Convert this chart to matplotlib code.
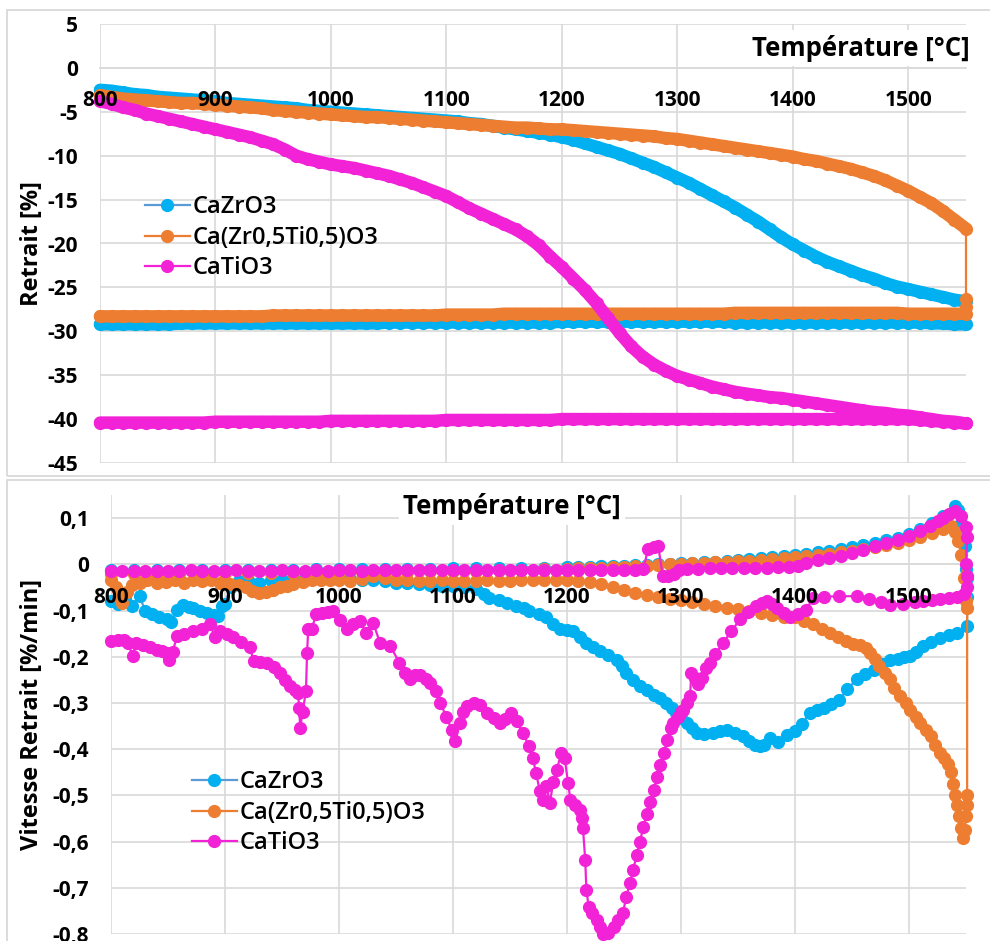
import numpy as np
import matplotlib
matplotlib.use('Agg')
import matplotlib.pyplot as plt
from matplotlib.patches import Rectangle

plt.rcParams['font.family'] = ['Open Sans', 'DejaVu Sans']

noms = ['CaZrO3', 'Ca(Zr0,5Ti0,5)O3', 'CaTiO3']
couleurs_ligne = ['#5B9BD5', '#ED7D31', '#F222D6']
couleurs_point = ['#00B0F0', '#ED7D31', '#F222D6']

# ---- retrait (%) : chauffe 800 -> 1550 puis retour, pas de 10 degres
temp = np.arange(800, 1551, 10)

retrait_cazro3 = [-2.5, -2.6, -2.8, -3.0, -3.1, -3.3, -3.4, -3.5, -3.6, -3.7,
                  -3.8, -4.0, -4.1, -4.2, -4.3, -4.4, -4.5, -4.6, -4.8, -4.9,
                  -5.0, -5.1, -5.2, -5.3, -5.4, -5.5, -5.6, -5.7, -5.8, -5.9,
                  -6.0, -6.1, -6.3, -6.4, -6.6, -6.8, -7.0, -7.2, -7.4, -7.6,
                  -7.9, -8.2, -8.6, -9.0, -9.4, -9.8, -10.3, -10.8, -11.3, -11.9,
                  -12.5, -13.1, -13.8, -14.5, -15.2, -15.9, -16.7, -17.5, -18.4, -19.3,
                  -20.1, -20.8, -21.5, -22.1, -22.6, -23.1, -23.6, -24.0, -24.5, -24.9,
                  -25.2, -25.5, -25.8, -26.1, -26.4, -26.6]
retrait_czt = [-3.1, -3.3, -3.5, -3.6, -3.7, -3.8, -3.9, -4.0, -4.0, -4.1,
               -4.2, -4.3, -4.4, -4.5, -4.6, -4.8, -4.9, -5.0, -5.1, -5.2,
               -5.3, -5.4, -5.5, -5.6, -5.6, -5.7, -5.8, -5.9, -6.0, -6.1,
               -6.2, -6.3, -6.4, -6.5, -6.6, -6.7, -6.8, -6.8, -6.9, -7.0,
               -7.0, -7.1, -7.2, -7.3, -7.4, -7.5, -7.6, -7.7, -7.8, -8.0,
               -8.1, -8.3, -8.5, -8.7, -8.9, -9.1, -9.3, -9.5, -9.7, -9.9,
               -10.1, -10.4, -10.6, -10.9, -11.2, -11.5, -11.9, -12.3, -12.8, -13.4,
               -14.0, -14.7, -15.4, -16.3, -17.3, -18.3]
retrait_catio3 = [-3.8, -4.1, -4.5, -4.8, -5.2, -5.5, -5.8, -6.1, -6.4, -6.7,
                  -7.0, -7.3, -7.6, -7.9, -8.3, -8.7, -9.3, -10.0, -10.4, -10.7,
                  -11.0, -11.2, -11.4, -11.7, -12.0, -12.3, -12.7, -13.1, -13.6, -14.1,
                  -14.6, -15.3, -16.0, -16.6, -17.2, -17.8, -18.4, -19.2, -20.2, -21.5,
                  -22.7, -24.0, -25.3, -26.8, -28.5, -30.2, -31.7, -32.9, -33.8, -34.5,
                  -35.1, -35.5, -35.9, -36.3, -36.6, -36.9, -37.1, -37.3, -37.5, -37.6,
                  -37.8, -38.0, -38.2, -38.4, -38.6, -38.8, -39.0, -39.2, -39.3, -39.5,
                  -39.6, -39.8, -40.0, -40.2, -40.3, -40.5]

# paliers finaux a 1550 puis courbes de retour (valeurs lues de 800 a 1550)
palier_cazro3 = []
palier_czt = [-26.3, -27.2]
palier_catio3 = []
retour_cazro3 = [-29.2, -29.2, -29.2, -29.2, -29.2, -29.2, -29.2, -29.1, -29.1, -29.1,
                 -29.1, -29.1, -29.1, -29.1, -29.1, -29.1, -29.1, -29.1, -29.1, -29.1,
                 -29.1, -29.1, -29.1, -29.1, -29.1, -29.0, -29.0, -29.0, -29.0, -29.0,
                 -29.0, -29.0, -29.0, -29.0, -29.0, -29.0, -29.0, -29.0, -29.0, -29.0,
                 -28.9, -28.9, -28.9, -28.9, -28.9, -28.9, -28.9, -28.9, -28.9, -28.9,
                 -28.9, -28.9, -28.9, -28.9, -28.9, -29.0, -29.0, -29.0, -29.0, -29.0,
                 -29.0, -29.0, -29.0, -29.0, -29.0, -29.0, -29.0, -29.0, -29.0, -29.0,
                 -29.0, -29.0, -29.1, -29.1, -29.2, -29.2]
retour_czt = [-28.3, -28.3, -28.3, -28.3, -28.3, -28.3, -28.3, -28.3, -28.3, -28.3,
              -28.3, -28.3, -28.3, -28.3, -28.3, -28.2, -28.2, -28.2, -28.2, -28.2,
              -28.2, -28.2, -28.2, -28.2, -28.2, -28.2, -28.2, -28.2, -28.2, -28.2,
              -28.1, -28.1, -28.1, -28.1, -28.1, -28.0, -28.0, -28.0, -28.0, -28.0,
              -28.0, -28.0, -28.0, -28.0, -28.0, -28.0, -28.0, -28.0, -28.0, -28.0,
              -28.0, -28.0, -28.0, -28.0, -28.0, -27.9, -27.9, -27.9, -27.9, -27.9,
              -27.9, -27.9, -27.9, -27.9, -27.9, -27.9, -27.9, -27.9, -27.9, -27.9,
              -28.0, -28.0, -28.0, -28.0, -28.0, -28.0]
retour_catio3 = [-40.4, -40.4, -40.4, -40.4, -40.4, -40.4, -40.4, -40.4, -40.4, -40.4,
                 -40.3, -40.3, -40.3, -40.3, -40.3, -40.3, -40.3, -40.3, -40.3, -40.3,
                 -40.2, -40.2, -40.2, -40.2, -40.2, -40.2, -40.2, -40.2, -40.2, -40.2,
                 -40.1, -40.1, -40.1, -40.1, -40.1, -40.1, -40.1, -40.1, -40.1, -40.1,
                 -40.0, -40.0, -40.0, -40.0, -40.0, -40.0, -40.0, -40.0, -40.0, -40.0,
                 -40.0, -40.0, -40.0, -40.0, -40.0, -40.0, -40.0, -40.0, -40.0, -40.0,
                 -40.0, -40.0, -40.0, -40.0, -40.0, -40.0, -40.0, -40.0, -40.0, -40.0,
                 -40.0, -40.1, -40.2, -40.3, -40.4, -40.5]

# ---- vitesse de retrait (%/min) : (T, v)
vit_cazro3_chauffe = [(800, -0.080), (806, -0.085), (812, -0.075), (818, -0.090), (825, -0.069),
    (830, -0.100), (836, -0.108), (842, -0.113), (849, -0.119), (853, -0.125), (858, -0.098),
    (863, -0.088), (868, -0.092), (872, -0.094), (878, -0.100), (884, -0.105), (890, -0.110),
    (894, -0.112), (897, -0.090), (900, -0.085), (905, -0.050), (912, -0.037), (920, -0.035),
    (930, -0.040), (940, -0.035), (950, -0.033), (960, -0.030), (970, -0.030), (980, -0.028),
    (990, -0.030), (1000, -0.030), (1010, -0.032), (1020, -0.033), (1030, -0.035), (1040, -0.037),
    (1050, -0.040), (1060, -0.040), (1070, -0.042), (1080, -0.045), (1090, -0.047), (1100, -0.048),
    (1110, -0.050), (1120, -0.054), (1127, -0.065), (1132, -0.072), (1140, -0.078), (1147, -0.083),
    (1155, -0.090), (1162, -0.095), (1167, -0.101), (1175, -0.108), (1182, -0.115), (1188, -0.130),
    (1194, -0.141), (1200, -0.143), (1205, -0.145), (1211, -0.158), (1217, -0.170), (1223, -0.180),
    (1229, -0.188), (1236, -0.197), (1244, -0.206), (1248, -0.220), (1252, -0.235), (1258, -0.250),
    (1264, -0.264), (1270, -0.273), (1276, -0.282), (1282, -0.290), (1287, -0.300), (1292, -0.312),
    (1296, -0.322), (1300, -0.332), (1305, -0.343), (1310, -0.355), (1314, -0.365), (1320, -0.367),
    (1328, -0.365), (1334, -0.360), (1340, -0.358), (1347, -0.365), (1354, -0.372), (1360, -0.383),
    (1365, -0.390), (1369, -0.394), (1373, -0.390), (1378, -0.375), (1385, -0.385), (1393, -0.370),
    (1400, -0.360), (1406, -0.345), (1413, -0.322), (1419, -0.315), (1425, -0.310), (1432, -0.302),
    (1439, -0.293), (1446, -0.270), (1454, -0.249), (1461, -0.238), (1469, -0.228), (1476, -0.215),
    (1483, -0.206), (1490, -0.205), (1496, -0.200), (1501, -0.199), (1506, -0.190), (1512, -0.177),
    (1519, -0.168), (1527, -0.159), (1535, -0.153), (1542, -0.148), (1551, -0.134)]
vit_cazro3_retour = [(1551, -0.070), (1551, -0.030), (1550, -0.010), (1549, 0.040), (1546, 0.090),
    (1543, 0.118), (1540, 0.126), (1530, 0.104), (1520, 0.089), (1510, 0.076), (1500, 0.066),
    (1490, 0.058), (1480, 0.052), (1470, 0.046), (1460, 0.041), (1450, 0.037), (1440, 0.033),
    (1430, 0.029), (1420, 0.026), (1410, 0.023), (1400, 0.020), (1390, 0.018), (1380, 0.015),
    (1370, 0.013), (1360, 0.011), (1350, 0.009), (1340, 0.007), (1330, 0.006), (1320, 0.004),
    (1310, 0.003), (1300, 0.002), (1290, 0.001), (1280, 0.000), (1270, -0.001), (1260, -0.002),
    (1250, -0.003), (1240, -0.004), (1230, -0.004), (1220, -0.005), (1210, -0.005), (1200, -0.006),
    (1180, -0.007), (1160, -0.007), (1140, -0.008), (1120, -0.009), (1100, -0.009), (1080, -0.010),
    (1060, -0.010), (1040, -0.010), (1020, -0.011), (1000, -0.011), (980, -0.011), (960, -0.012),
    (940, -0.012), (920, -0.012), (900, -0.012), (880, -0.012), (860, -0.012), (840, -0.012),
    (820, -0.012), (800, -0.012)]

vit_czt_chauffe = [(800, -0.035), (804, -0.050), (807, -0.070), (810, -0.083), (814, -0.060),
    (818, -0.045), (825, -0.040), (832, -0.035), (840, -0.040), (848, -0.038), (856, -0.035),
    (864, -0.040), (872, -0.033), (880, -0.037), (888, -0.035), (896, -0.040), (904, -0.042),
    (912, -0.045), (918, -0.050), (924, -0.058), (930, -0.062), (936, -0.060), (942, -0.055),
    (948, -0.050), (954, -0.047), (960, -0.042), (968, -0.038), (976, -0.033), (984, -0.035),
    (992, -0.035), (1000, -0.035), (1010, -0.036), (1020, -0.032), (1030, -0.025), (1040, -0.030),
    (1050, -0.033), (1060, -0.035), (1070, -0.036), (1080, -0.036), (1090, -0.035), (1100, -0.036),
    (1110, -0.037), (1120, -0.036), (1130, -0.035), (1140, -0.036), (1150, -0.036), (1160, -0.035),
    (1170, -0.034), (1180, -0.035), (1190, -0.033), (1200, -0.034), (1210, -0.036), (1220, -0.038),
    (1230, -0.042), (1240, -0.050), (1250, -0.056), (1260, -0.062), (1270, -0.067), (1280, -0.071),
    (1290, -0.074), (1300, -0.078), (1310, -0.082), (1320, -0.086), (1330, -0.090), (1340, -0.094),
    (1350, -0.097), (1360, -0.101), (1370, -0.105), (1380, -0.109), (1390, -0.113), (1400, -0.115),
    (1408, -0.122), (1416, -0.130), (1424, -0.140), (1431, -0.148), (1438, -0.157), (1445, -0.166),
    (1451, -0.172), (1457, -0.174), (1462, -0.182), (1466, -0.191), (1470, -0.205), (1474, -0.221),
    (1479, -0.235), (1483, -0.249), (1487, -0.268), (1492, -0.286), (1497, -0.300), (1501, -0.315),
    (1506, -0.330), (1510, -0.343), (1515, -0.358), (1519, -0.372), (1523, -0.390), (1527, -0.408),
    (1531, -0.420), (1534, -0.433), (1537, -0.450), (1539, -0.475), (1540, -0.500), (1542, -0.520),
    (1544, -0.545), (1546, -0.570), (1547, -0.592), (1549, -0.575), (1550, -0.545), (1551, -0.520),
    (1551, -0.500)]
vit_czt_retour = [(1551, -0.095), (1550, -0.080), (1549, -0.070), (1548, -0.030), (1546, 0.020),
    (1543, 0.050), (1540, 0.070), (1537, 0.083), (1530, 0.077), (1520, 0.068), (1510, 0.060),
    (1500, 0.053), (1490, 0.047), (1480, 0.042), (1470, 0.037), (1460, 0.033), (1450, 0.029),
    (1440, 0.026), (1430, 0.023), (1420, 0.020), (1410, 0.018), (1400, 0.016), (1390, 0.014),
    (1380, 0.012), (1370, 0.010), (1360, 0.008), (1350, 0.007), (1340, 0.005), (1330, 0.004),
    (1320, 0.003), (1310, 0.002), (1300, 0.001), (1290, 0.000), (1280, -0.002), (1270, -0.003),
    (1260, -0.004), (1250, -0.005), (1240, -0.006), (1230, -0.007), (1220, -0.008), (1210, -0.009),
    (1200, -0.010), (1180, -0.011), (1160, -0.012), (1140, -0.013), (1120, -0.014), (1100, -0.015),
    (1080, -0.015), (1060, -0.016), (1040, -0.016), (1020, -0.017), (1000, -0.017), (980, -0.018),
    (960, -0.018), (940, -0.018), (920, -0.019), (900, -0.019), (880, -0.019), (860, -0.020),
    (840, -0.020), (820, -0.020), (800, -0.020)]

vit_catio3_chauffe = [(800, -0.166), (806, -0.163), (811, -0.163), (815, -0.170), (819, -0.199),
    (822, -0.170), (828, -0.175), (834, -0.180), (840, -0.185), (845, -0.188), (849, -0.191),
    (851, -0.206), (854, -0.190), (858, -0.155), (864, -0.150), (872, -0.145), (880, -0.140),
    (887, -0.130), (891, -0.158), (896, -0.145), (902, -0.150), (907, -0.158), (914, -0.168),
    (922, -0.180), (925, -0.210), (931, -0.212), (937, -0.213), (943, -0.222), (948, -0.235),
    (953, -0.250), (957, -0.264), (961, -0.272), (964, -0.278), (965, -0.310), (966, -0.354),
    (968, -0.320), (971, -0.275), (972, -0.191), (973, -0.141), (976, -0.140), (980, -0.108),
    (985, -0.105), (990, -0.103), (995, -0.102), (1001, -0.120), (1007, -0.141), (1012, -0.130),
    (1018, -0.123), (1024, -0.148), (1030, -0.127), (1036, -0.170), (1045, -0.177), (1053, -0.213),
    (1058, -0.235), (1062, -0.249), (1067, -0.240), (1071, -0.239), (1076, -0.248), (1080, -0.256),
    (1085, -0.275), (1089, -0.300), (1094, -0.330), (1099, -0.358), (1102, -0.383), (1106, -0.343),
    (1109, -0.320), (1112, -0.307), (1118, -0.300), (1124, -0.305), (1130, -0.322), (1136, -0.332),
    (1141, -0.343), (1146, -0.335), (1151, -0.322), (1156, -0.340), (1161, -0.365), (1167, -0.394),
    (1170, -0.420), (1173, -0.452), (1176, -0.490), (1179, -0.510), (1182, -0.480), (1185, -0.516),
    (1188, -0.470), (1191, -0.445), (1195, -0.408), (1198, -0.420), (1201, -0.473), (1203, -0.510),
    (1207, -0.520), (1211, -0.531), (1213, -0.550), (1214, -0.571), (1216, -0.640), (1217, -0.705),
    (1219, -0.741), (1222, -0.755), (1226, -0.770), (1229, -0.785), (1232, -0.799), (1236, -0.797),
    (1241, -0.785), (1245, -0.770), (1249, -0.755), (1252, -0.720), (1255, -0.690), (1258, -0.662),
    (1261, -0.630), (1264, -0.600), (1267, -0.568), (1270, -0.540), (1273, -0.515), (1276, -0.488),
    (1279, -0.460), (1282, -0.435), (1285, -0.408), (1288, -0.380), (1291, -0.355), (1293, -0.343),
    (1297, -0.330), (1300, -0.320), (1302, -0.315), (1305, -0.300), (1308, -0.286), (1309, -0.235),
    (1312, -0.245), (1315, -0.260), (1318, -0.245), (1322, -0.225), (1325, -0.213), (1330, -0.195),
    (1337, -0.170), (1344, -0.145), (1352, -0.119), (1359, -0.103), (1366, -0.090), (1371, -0.083),
    (1375, -0.080), (1380, -0.085), (1384, -0.094), (1390, -0.105), (1396, -0.115), (1403, -0.108),
    (1410, -0.098), (1416, -0.072), (1425, -0.070), (1439, -0.069), (1454, -0.069), (1465, -0.075),
    (1475, -0.082), (1483, -0.087), (1495, -0.085), (1505, -0.082), (1512, -0.080), (1520, -0.078),
    (1527, -0.076), (1535, -0.072), (1542, -0.070), (1548, -0.065)]
vit_catio3_retour = [(1551, -0.050), (1551, -0.025), (1550, 0.000), (1551, 0.060), (1550, 0.080),
    (1546, 0.105), (1540, 0.116), (1535, 0.108), (1530, 0.100), (1525, 0.093), (1518, 0.083),
    (1510, 0.072), (1500, 0.061), (1490, 0.053), (1480, 0.046), (1470, 0.039), (1460, 0.032),
    (1450, 0.025), (1440, 0.019), (1430, 0.014), (1420, 0.009), (1410, 0.003), (1403, -0.003),
    (1395, -0.006), (1385, -0.006), (1375, -0.007), (1365, -0.007), (1355, -0.008), (1345, -0.008),
    (1335, -0.009), (1325, -0.009), (1315, -0.010), (1305, -0.011), (1298, -0.012), (1294, -0.022),
    (1289, -0.025), (1284, -0.025), (1280, 0.040), (1276, 0.038), (1271, 0.033), (1267, -0.011),
    (1260, -0.012), (1250, -0.012), (1240, -0.012), (1230, -0.013), (1220, -0.013), (1210, -0.012),
    (1200, -0.012), (1190, -0.013), (1180, -0.013), (1170, -0.012), (1160, -0.012), (1150, -0.013),
    (1140, -0.013), (1130, -0.012), (1120, -0.012), (1110, -0.013), (1100, -0.013), (1090, -0.012),
    (1080, -0.013), (1070, -0.013), (1060, -0.012), (1050, -0.013), (1040, -0.013), (1030, -0.013),
    (1020, -0.014), (1010, -0.013), (1000, -0.013), (990, -0.014), (980, -0.013), (970, -0.014),
    (960, -0.014), (950, -0.013), (940, -0.014), (930, -0.014), (920, -0.014), (910, -0.013),
    (900, -0.014), (890, -0.014), (880, -0.014), (870, -0.013), (860, -0.014), (850, -0.014),
    (840, -0.015), (830, -0.014), (820, -0.015), (810, -0.015), (800, -0.015)]


def trace(ax, x, y, i):
    ax.plot(x, y, '-o', color=couleurs_ligne[i], mfc=couleurs_point[i], mec=couleurs_point[i],
            ms=8.5, lw=1.6, label=noms[i], clip_on=False, zorder=3 + i)


def bande(ax, x, y, i):
    # points tres serres dans l'original : ils forment une bande continue
    ax.plot(x, y, '-', color=couleurs_point[i], lw=9, solid_capstyle='round',
            solid_joinstyle='round', clip_on=False, zorder=3 + i)


def habiller(ax, yticks, ylabels, ylim, titre_y, xlab):
    ax.set_xlim(800, 1550)
    ax.set_ylim(*ylim)
    ax.set_xticks(range(800, 1501, 100))
    ax.set_yticks(yticks, ylabels, fontweight='bold')
    ax.grid(True, color='#D9D9D9', lw=1.2)
    ax.set_axisbelow(True)
    for s in ['top', 'right', 'left']:
        ax.spines[s].set_visible(False)
    ax.spines['bottom'].set_position(('data', 0))
    ax.spines['bottom'].set_color('#D9D9D9')
    ax.spines['bottom'].set_linewidth(1.2)
    ax.tick_params(length=0, labelsize=15, pad=16, labelbottom=False)
    # etiquettes de temperature posees au-dessus des courbes
    for t in range(800, 1501, 100):
        ax.annotate(str(t), (t, 0), xytext=(0, -16), textcoords='offset points',
                    ha='center', va='top', fontsize=15, fontweight='bold',
                    zorder=10, annotation_clip=False)
    ax.set_ylabel(titre_y, fontsize=17, fontweight='bold')
    ax.yaxis.set_label_coords(xlab, 0.5)


fig = plt.figure(figsize=(9.9, 9.41), dpi=100)
ax1 = fig.add_axes([100 / 990, 1 - 463 / 941, 866 / 990, 439 / 941])
ax2 = fig.add_axes([111 / 990, 1 - 934 / 941, 855 / 990, 439 / 941])

# cadres des deux graphiques
fig.add_artist(Rectangle((7 / 990, 1 - 476 / 941), 1.0, 466 / 941, transform=fig.transFigure,
                         fill=False, ec='#D9D9D9', lw=1.3))
fig.add_artist(Rectangle((7 / 990, -0.05), 1.0, 1 - 480 / 941 + 0.05, transform=fig.transFigure,
                         fill=False, ec='#D9D9D9', lw=1.3))

# haut : retrait
chauffes = [retrait_cazro3, retrait_czt, retrait_catio3]
paliers = [palier_cazro3, palier_czt, palier_catio3]
retours = [retour_cazro3, retour_czt, retour_catio3]
for i in range(3):
    bande(ax1, temp, chauffes[i], i)
    bande(ax1, temp, retours[i], i)
    x = np.concatenate([temp, [1550] * len(paliers[i]), temp[::-1]])
    y = np.concatenate([chauffes[i], paliers[i], retours[i][::-1]])
    trace(ax1, x, y, i)

yt1 = list(range(-45, 6, 5))
habiller(ax1, yt1, [str(v) for v in yt1], (-45, 5), 'Retrait [%]', -0.0647)

# bas : vitesse de retrait
vitesses = [vit_cazro3_chauffe + vit_cazro3_retour,
            vit_czt_chauffe + vit_czt_retour,
            vit_catio3_chauffe + vit_catio3_retour]
for i in range(3):
    x = [p[0] for p in vitesses[i]]
    y = [p[1] for p in vitesses[i]]
    trace(ax2, x, y, i)

yt2 = [-0.8, -0.7, -0.6, -0.5, -0.4, -0.3, -0.2, -0.1, 0, 0.1]
lab2 = ['-0,8', '-0,7', '-0,6', '-0,5', '-0,4', '-0,3', '-0,2', '-0,1', '0', '0,1']
habiller(ax2, yt2, lab2, (-0.8, 0.15), 'Vitesse Retrait [%/min]', -0.0784)

for ax, ancre in [(ax1, (0.052, 0.61)), (ax2, (0.0947, 0.373))]:
    ax.legend(loc='upper left', bbox_to_anchor=ancre, frameon=False,
              prop={'size': 17, 'weight': 'semibold'},
              handlelength=1.9, handletextpad=0.12, labelspacing=0.28,
              borderpad=0, borderaxespad=0)

fig.text(970 / 990, 1 - 48 / 941, 'Température [°C]', ha='right', va='center',
         fontsize=18.5, fontweight='bold',
         bbox=dict(fc='white', ec='none', pad=3))
fig.text(512 / 990, 1 - 507 / 941, 'Température [°C]', ha='center', va='center',
         fontsize=18.5, fontweight='bold',
         bbox=dict(fc='white', ec='none', pad=3))

fig.savefig('out.png', dpi=100)
